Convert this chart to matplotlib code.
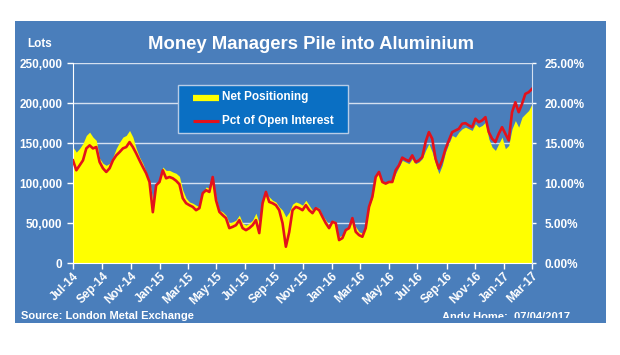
import matplotlib
matplotlib.use("Agg")
import matplotlib.pyplot as plt
import matplotlib.dates as mdates
from matplotlib.patches import Rectangle
from matplotlib.lines import Line2D
from matplotlib.ticker import FuncFormatter, MultipleLocator
import numpy as np
import pandas as pd

plt.rcParams['font.family'] = ['Liberation Sans', 'DejaVu Sans']
plt.rcParams['font.weight'] = 'bold'

# weekly readings, Jul 2014 -> Mar 2017
net_lots = [
    145.0, 138.8, 143.4, 149.6, 159.6, 163.7, 157.5, 153.4, 131.0, 124.8,
    122.3, 124.8, 132.6, 143.4, 151.2, 157.5, 159.6, 165.8, 157.5, 143.4,
    132.6, 124.8, 113.9, 103.6, 78.7, 97.4, 103.6, 120.2, 116.0, 116.0,
    113.9, 112.3, 108.6, 91.2, 81.2, 76.6, 75.0, 72.5, 70.4, 87.4,
    95.3, 93.7, 103.6, 82.8, 66.3, 64.2, 60.1, 50.1, 51.7, 53.9,
    60.1, 50.1, 47.6, 50.1, 53.9, 62.6, 50.1, 75.0, 87.4, 82.8,
    78.7, 76.6, 70.4, 66.3, 58.0, 63.8, 73.8, 76.6, 75.0, 72.5,
    78.7, 72.5, 66.3, 70.4, 68.8, 60.1, 53.9, 47.6, 53.9, 51.7,
    33.1, 35.2, 43.9, 45.5, 51.4, 45.5, 39.3, 37.7, 43.9, 70.4,
    81.2, 107.7, 112.3, 101.5, 99.5, 101.5, 101.5, 111.9, 120.2, 128.5,
    126.4, 124.4, 130.6, 124.4, 126.4, 130.6, 140.9, 149.3, 138.8, 124.4,
    111.9, 122.3, 138.8, 149.3, 159.6, 157.5, 163.7, 167.9, 169.9, 167.9,
    165.8, 174.1, 169.9, 172.0, 176.1, 155.5, 145.0, 140.9, 149.3, 157.5,
    143.0, 147.1, 167.9, 178.2, 169.9, 182.3, 186.6, 190.7, 199.0,
]
net_lots = [v * 1000 for v in net_lots]

pct_oi = [
    12.85, 11.61, 12.23, 12.85, 14.34, 14.72, 14.34, 14.51, 12.64, 11.86,
    11.40, 11.86, 12.85, 13.47, 13.88, 14.34, 14.51, 15.13, 14.51, 13.72,
    12.85, 12.02, 11.23, 10.15, 6.38, 9.74, 10.15, 11.61, 10.61, 10.77,
    10.61, 10.30, 9.86, 8.12, 7.50, 7.25, 7.04, 6.63, 6.88, 8.75,
    9.12, 8.91, 10.77, 7.87, 6.42, 6.01, 5.64, 4.39, 4.55, 4.76,
    5.39, 4.39, 4.14, 4.39, 4.76, 5.39, 3.77, 7.50, 8.91, 7.66,
    7.50, 7.25, 6.63, 5.01, 2.07, 3.89, 6.63, 7.04, 6.88, 6.63,
    7.25, 6.63, 6.26, 6.88, 6.63, 5.80, 5.01, 4.39, 5.18, 5.01,
    2.90, 3.15, 4.14, 4.39, 5.64, 3.93, 3.52, 3.31, 4.39, 7.04,
    8.29, 10.77, 11.40, 10.15, 9.95, 10.15, 10.15, 11.61, 12.23, 13.19,
    12.94, 12.76, 13.47, 12.64, 12.85, 13.26, 15.13, 16.37, 15.55, 13.06,
    11.82, 12.85, 14.31, 15.34, 16.37, 16.58, 16.79, 17.42, 17.49, 17.21,
    16.99, 18.04, 17.62, 17.83, 18.24, 16.37, 15.55, 15.13, 16.17, 16.99,
    16.17, 15.34, 18.86, 20.10, 18.86, 19.90, 21.15, 21.35, 21.77,
]

dates = pd.date_range('2014-07-01', '2017-03-01', periods=len(net_lots))

panel_blue = '#4a7ebb'
grid_col = '#d4e0f0'
yellow = '#ffff00'
red = '#e3121b'

fig = plt.figure(figsize=(6.2, 3.55), dpi=100)
fig.patch.set_facecolor('white')

# pixel -> figure fraction helpers
W, H = 620, 355
def fx(px): return px / W
def fy(py): return 1 - py / H

# blue chart panel
panel = Rectangle((fx(15), fy(323)), fx(606) - fx(15), fy(21) - fy(323),
                  transform=fig.transFigure, facecolor=panel_blue,
                  edgecolor='none', zorder=-5)
fig.patches.append(panel)

ax = fig.add_axes([fx(73), fy(263.3), fx(532) - fx(73), fy(63) - fy(263.3)])
ax.set_facecolor('none')
ax.fill_between(dates, net_lots, 0, color=yellow, lw=0, zorder=2)
ax.set_ylim(0, 250000)
ax.set_xlim(dates[0], dates[-1])
ax.yaxis.set_major_locator(MultipleLocator(50000))
ax.yaxis.set_major_formatter(FuncFormatter(lambda v, p: f"{int(v):,}"))
ax.grid(axis='y', color=grid_col, lw=1.0)
ax.set_axisbelow(True)

ax.xaxis.set_major_locator(mdates.MonthLocator(bymonth=[1, 3, 5, 7, 9, 11]))
ax.xaxis.set_major_formatter(mdates.DateFormatter('%b-%y'))
for lab in ax.get_xticklabels():
    lab.set_rotation(45)
    lab.set_ha('right')
    lab.set_rotation_mode('anchor')

ax2 = ax.twinx()
ax2.plot(dates, pct_oi, color=red, lw=1.9, zorder=3)
ax2.set_ylim(0, 25)
ax2.yaxis.set_major_locator(MultipleLocator(5))
ax2.yaxis.set_major_formatter(FuncFormatter(lambda v, p: f"{v:.2f}%"))

for a in (ax, ax2):
    for s in a.spines.values():
        s.set_visible(False)
    a.tick_params(colors='white', labelcolor='white', labelsize=8.5,
                  length=4, width=1)
ax.spines['left'].set_visible(True)
ax.spines['left'].set_color('white')
ax.spines['bottom'].set_visible(True)
ax.spines['bottom'].set_color('white')
ax2.spines['right'].set_visible(True)
ax2.spines['right'].set_color(grid_col)
ax2.tick_params(axis='y', length=3, pad=6)
ax.tick_params(axis='x', pad=1)

# legend box drawn by hand
box = Rectangle((fx(178), fy(133)), fx(348) - fx(178), fy(85) - fy(133),
                transform=fig.transFigure, facecolor='#0a6fc3',
                edgecolor='#b8cce6', lw=1, zorder=5)
fig.patches.append(box)
fig.lines.append(Line2D([fx(193), fx(219)], [fy(97.5)] * 2,
                        transform=fig.transFigure, color=yellow, lw=4.5,
                        solid_capstyle='butt', zorder=6))
fig.lines.append(Line2D([fx(193), fx(219)], [fy(121)] * 2,
                        transform=fig.transFigure, color=red, lw=2.2,
                        solid_capstyle='butt', zorder=6))
fig.text(fx(222), fy(97), 'Net Positioning', color='white', fontsize=8.5,
         fontweight='bold', ha='left', va='center', zorder=7)
fig.text(fx(222), fy(121), 'Pct of Open Interest', color='white',
         fontsize=8.5, fontweight='bold', ha='left', va='center', zorder=7)

fig.text(fx(311), fy(44.5), 'Money Managers Pile into Aluminium', color='white',
         fontsize=13.3, fontweight='bold', ha='center', va='center')
fig.text(fx(27), fy(44), 'Lots', color='white', fontsize=8.5,
         fontweight='bold', ha='left', va='center')
fig.text(fx(21), fy(316), 'Source: London Metal Exchange', color='white',
         fontsize=8, fontweight='bold', ha='left', va='center')
sig = fig.text(fx(442), fy(317), 'Andy Home:  07/04/2017', color='white',
               fontsize=8, fontweight='bold', ha='left', va='center')
clip = Rectangle((fx(15), fy(318)), fx(606) - fx(15), fy(21) - fy(318),
                 transform=fig.transFigure, facecolor='none', edgecolor='none')
sig.set_clip_path(clip)
sig.set_clip_on(True)

fig.savefig('out.png', dpi=100, facecolor='white')
